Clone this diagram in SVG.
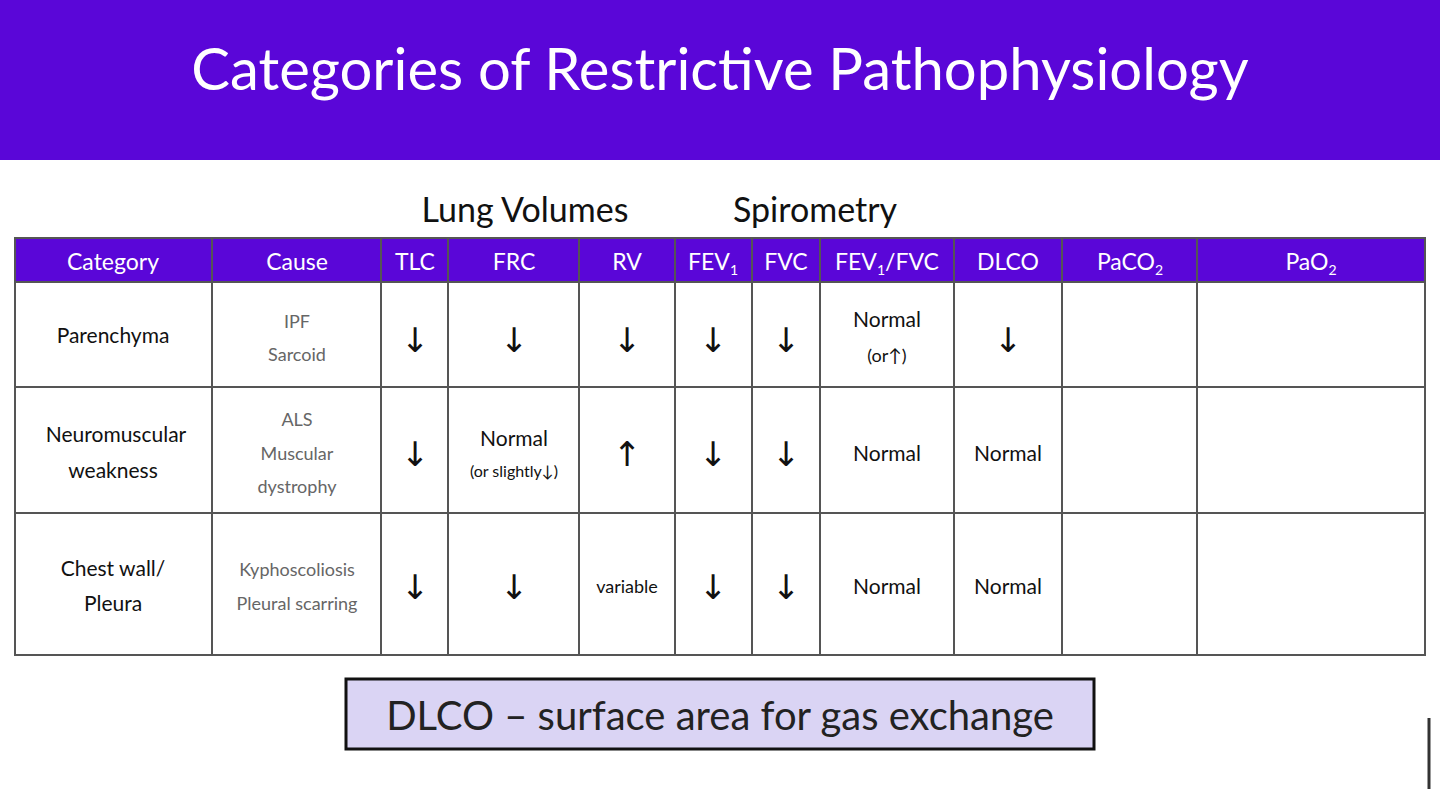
<svg xmlns="http://www.w3.org/2000/svg" width="1440" height="789" viewBox="0 0 1440 789">
<style>
text{font-family:Lato,"Open Sans","Liberation Sans",sans-serif;text-anchor:middle}
.h{fill:#fff;font-size:23px}
.c{fill:#111;font-size:21px}
.g{fill:#666;font-size:18px}
.a{fill:#111;font-size:34px;font-family:"DejaVu Sans",sans-serif}
.s{font-size:14px}
line{stroke:#555;stroke-width:2}
</style>
<rect width="1440" height="789" fill="#fff"/>
<rect width="1440" height="160" fill="#5A06D8"/>
<text x="720" y="90" fill="#fff" style="font-size:58px">Categories of Restrictive Pathophysiology</text>
<text x="525" y="222" style="font-size:34px" fill="#111">Lung Volumes</text>
<text x="815" y="222" style="font-size:34px" fill="#111">Spirometry</text>
<g id="table">
<rect x="15" y="238" width="1410" height="44" fill="#5A06D8"/>
<rect x="15" y="238" width="1410" height="417" fill="none" stroke="#555" stroke-width="2"/>
<g>
<line x1="15" y1="282" x2="1425" y2="282"/><line x1="15" y1="387" x2="1425" y2="387"/><line x1="15" y1="513" x2="1425" y2="513"/>
<line x1="212" y1="238" x2="212" y2="655"/><line x1="381" y1="238" x2="381" y2="655"/><line x1="448" y1="238" x2="448" y2="655"/><line x1="579" y1="238" x2="579" y2="655"/><line x1="675" y1="238" x2="675" y2="655"/><line x1="752" y1="238" x2="752" y2="655"/><line x1="820" y1="238" x2="820" y2="655"/><line x1="954" y1="238" x2="954" y2="655"/><line x1="1062" y1="238" x2="1062" y2="655"/><line x1="1197" y1="238" x2="1197" y2="655"/>
</g>
<text class="h" x="113" y="270">Category</text>
<text class="h" x="297" y="270">Cause</text>
<text class="h" x="415" y="270">TLC</text>
<text class="h" x="514" y="270">FRC</text>
<text class="h" x="627" y="270">RV</text>
<text class="h" x="713" y="270">FEV<tspan class="s" dy="5">1</tspan></text>
<text class="h" x="786" y="270">FVC</text>
<text class="h" x="887" y="270">FEV<tspan class="s" dy="5">1</tspan><tspan dy="-5">/FVC</tspan></text>
<text class="h" x="1008" y="270">DLCO</text>
<text class="h" x="1130" y="270">PaCO<tspan class="s" dy="5">2</tspan></text>
<text class="h" x="1311" y="270">PaO<tspan class="s" dy="5">2</tspan></text>

<text class="c" x="113" y="343">Parenchyma</text>
<text class="g" x="297" y="328">IPF</text><text class="g" x="297" y="361">Sarcoid</text>
<text class="a" x="415" y="352">↓</text><text class="a" x="514" y="352">↓</text><text class="a" x="627" y="352">↓</text><text class="a" x="713" y="352">↓</text><text class="a" x="786" y="352">↓</text>
<text class="c" x="887" y="327">Normal</text><text class="c" x="887" y="362" style="font-size:18px">(or↑)</text>
<text class="a" x="1008" y="352">↓</text>

<text class="c" x="116" y="442">Neuromuscular</text><text class="c" x="113" y="478">weakness</text>
<text class="g" x="297" y="426">ALS</text><text class="g" x="297" y="460">Muscular</text><text class="g" x="297" y="493">dystrophy</text>
<text class="a" x="415" y="466">↓</text>
<text class="c" x="514" y="446">Normal</text><text class="c" x="514" y="477" style="font-size:16px">(or slightly↓)</text>
<text class="a" x="627" y="466">↑</text><text class="a" x="713" y="466">↓</text><text class="a" x="786" y="466">↓</text>
<text class="c" x="887" y="461">Normal</text><text class="c" x="1008" y="461">Normal</text>

<text class="c" x="113" y="576">Chest wall/</text><text class="c" x="113" y="611">Pleura</text>
<text class="g" x="297" y="576">Kyphoscoliosis</text><text class="g" x="297" y="610">Pleural scarring</text>
<text class="a" x="415" y="599">↓</text><text class="a" x="514" y="599">↓</text>
<text class="c" x="627" y="593" style="font-size:18px">variable</text>
<text class="a" x="713" y="599">↓</text><text class="a" x="786" y="599">↓</text>
<text class="c" x="887" y="594">Normal</text><text class="c" x="1008" y="594">Normal</text>
</g>
<g id="note">
<rect x="346" y="679" width="748" height="70" fill="#DAD4F4" stroke="#111" stroke-width="3"/>
<text x="720" y="730" fill="#222" style="font-size:40px">DLCO – surface area for gas exchange</text>
</g>
<line x1="1429" y1="718" x2="1429" y2="789" style="stroke:#333;stroke-width:3"/>
</svg>
